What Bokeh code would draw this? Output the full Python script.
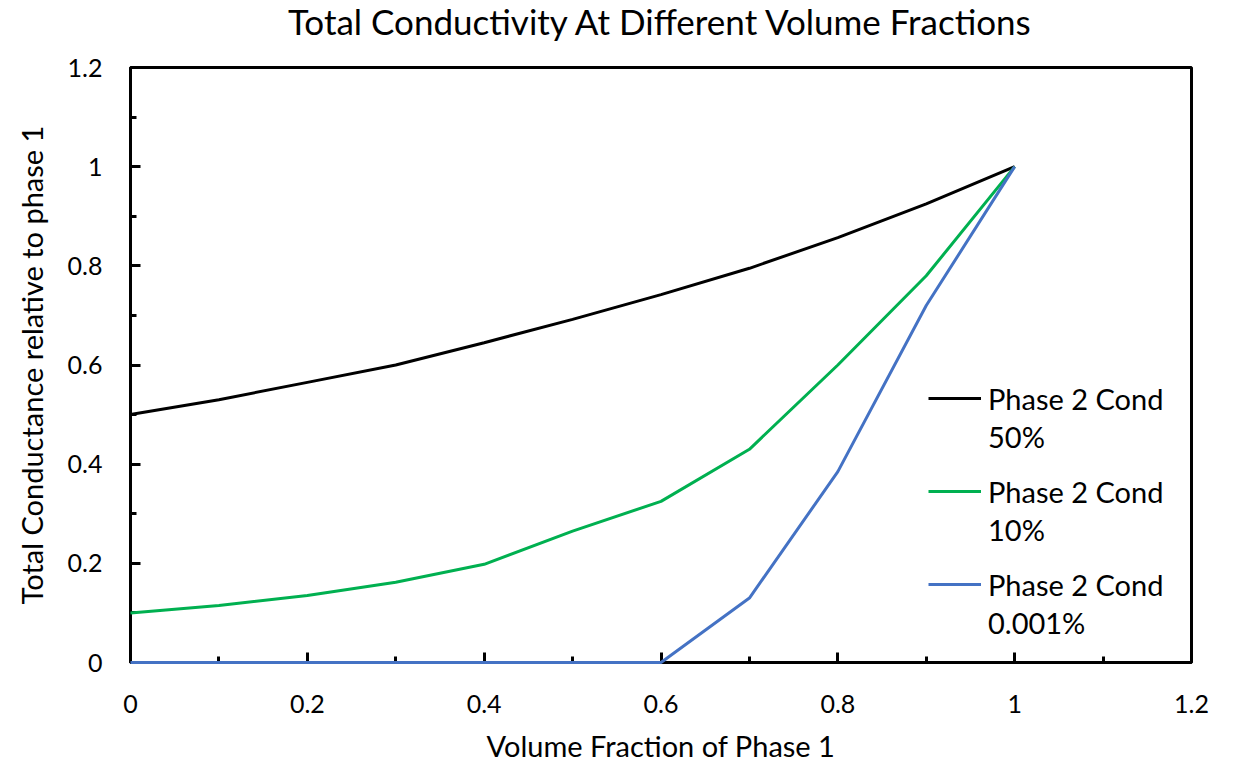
from bokeh.plotting import figure
from bokeh.models import FixedTicker, Legend, LegendItem, Range1d, Label
from bokeh.embed import file_html
from bokeh.resources import INLINE

# Volume fraction of phase 1
fraction = [0.0, 0.1, 0.2, 0.3, 0.4, 0.5, 0.6, 0.7, 0.8, 0.9, 1.0]

# Total conductance relative to phase 1, for three phase-2 conductivities
cond_50 = [0.50, 0.530, 0.565, 0.600, 0.645, 0.692, 0.742, 0.795, 0.857, 0.925, 1.0]
cond_10 = [0.10, 0.115, 0.135, 0.162, 0.198, 0.265, 0.325, 0.430, 0.600, 0.780, 1.0]
cond_0001 = [0.0, 0.0, 0.0, 0.0, 0.0, 0.0, 0.0, 0.130, 0.385, 0.720, 1.0]

series_name = "Phase 2 Cond"
series_levels = ["50%", "10%", "0.001%"]
series_colors = ["#000000", "#00B050", "#4472C4"]

major_ticks = [0.0, 0.2, 0.4, 0.6, 0.8, 1.0, 1.2]
minor_ticks = [0.1, 0.3, 0.5, 0.7, 0.9, 1.1]
tick_labels = ["0", "0.2", "0.4", "0.6", "0.8", "1", "1.2"]

chart_title = "Total Conductivity At Different Volume Fractions"

FONT = "Lato"
W, H = 1243, 766
BORDER_L, BORDER_R, BORDER_T, BORDER_B = 130, 52, 67, 104

p = figure(
    width=W, height=H,
    x_range=Range1d(0, 1.2), y_range=Range1d(0, 1.2),
    output_backend="svg", toolbar_location=None,
    min_border_left=BORDER_L, min_border_right=BORDER_R,
    min_border_top=BORDER_T, min_border_bottom=BORDER_B,
)
p.grid.visible = False
p.outline_line_color = "black"
p.outline_line_width = 3

# chart title, drawn in the band above the plot frame
p.add_layout(Label(
    x=(W - BORDER_L - BORDER_R) / 2, y=BORDER_T - 20,
    x_units="screen", y_units="screen",
    text=chart_title, text_align="center", text_baseline="middle",
    text_font=FONT, text_font_size="35px", text_color="#000000",
), "above")

for ax in (p.xaxis[0], p.yaxis[0]):
    ax.ticker = FixedTicker(ticks=major_ticks, minor_ticks=minor_ticks)
    ax.major_label_overrides = {t: s for t, s in zip(major_ticks, tick_labels)}
    ax.axis_line_color = "black"
    ax.axis_line_width = 3
    ax.major_tick_line_color = "black"
    ax.major_tick_line_width = 3
    ax.minor_tick_line_color = "black"
    ax.minor_tick_line_width = 3
    ax.major_tick_in = 10
    ax.major_tick_out = 0
    ax.minor_tick_in = 6
    ax.minor_tick_out = 0
    ax.major_label_text_font = FONT
    ax.major_label_text_font_size = "25px"
    ax.major_label_text_color = "#000000"
    ax.axis_label_text_font = FONT
    ax.axis_label_text_font_size = "29px"
    ax.axis_label_text_font_style = "normal"
    ax.axis_label_text_color = "#000000"

p.xaxis.axis_label = "Volume Fraction of Phase 1"
p.xaxis.major_label_standoff = 32
p.xaxis.axis_label_standoff = 12
p.yaxis.axis_label = "Total Conductance relative to phase 1"
p.yaxis.major_label_standoff = 28
p.yaxis.axis_label_standoff = 16

renderers = []
for ys, color in zip([cond_50, cond_10, cond_0001], series_colors):
    r = p.line(fraction, ys, line_color=color, line_width=3)
    r.level = "overlay"
    renderers.append(r)

legend_style = dict(
    orientation="vertical",
    label_text_font=FONT,
    label_text_font_size="29px",
    label_text_color="#000000",
    label_height=40,
    glyph_height=40,
    spacing=53,
    border_line_alpha=0,
    background_fill_alpha=0,
    padding=0,
    margin=0,
)

# first line of each legend entry, with the line sample
legend_main = Legend(
    items=[LegendItem(label=series_name, renderers=[r]) for r in renderers],
    location=(798, 58),
    glyph_width=53,
    label_standoff=7,
    **legend_style,
)
# second line of each legend entry (text only)
legend_sub = Legend(
    items=[LegendItem(label=lvl, renderers=[r]) for lvl, r in zip(series_levels, renderers)],
    location=(858, 20),
    glyph_width=0,
    label_standoff=0,
    **legend_style,
)
p.add_layout(legend_main, "center")
p.add_layout(legend_sub, "center")

open("out.html", "w").write(file_html(p, INLINE))
